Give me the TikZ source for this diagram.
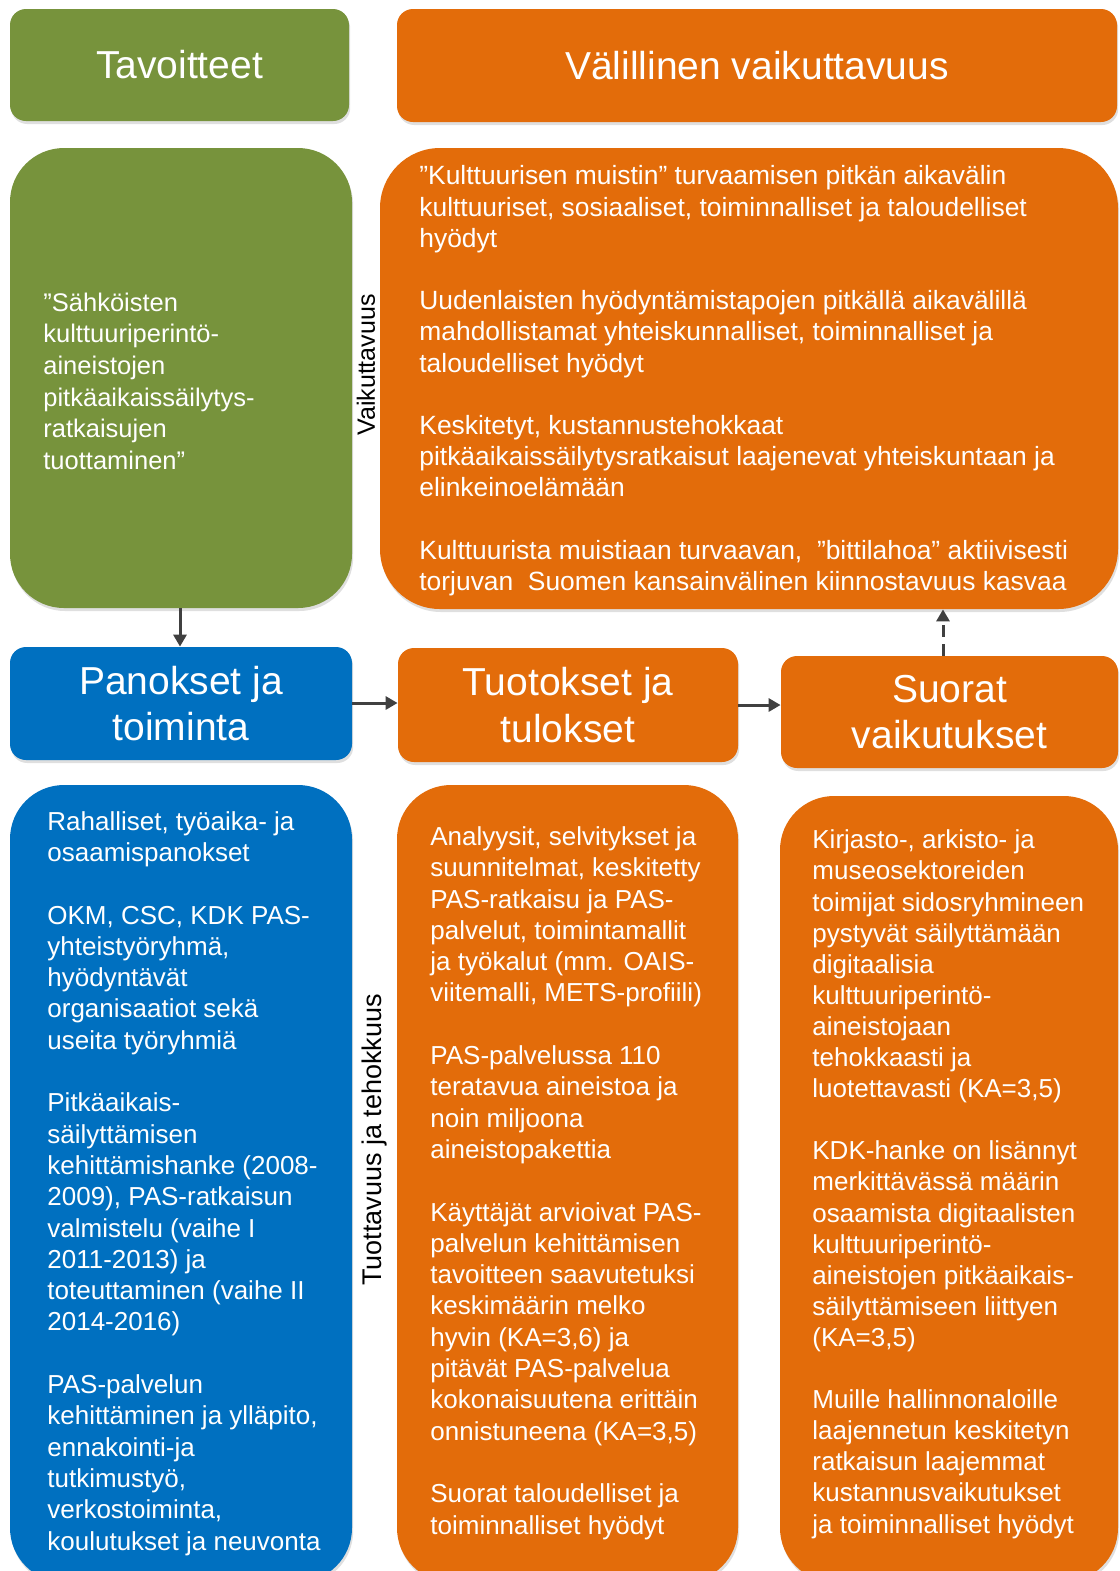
\documentclass[tikz,border=0pt]{standalone}
\usepackage{fontspec}
\setmainfont{Liberation Sans}
\usetikzlibrary{arrows.meta,shadows,calc,fit}
\definecolor{cG}{HTML}{77933C}
\definecolor{cO}{HTML}{E36C0A}
\definecolor{cB}{HTML}{0070C0}
\definecolor{cA}{HTML}{404040}
\tikzset{
  shbox/.style={inner sep=0pt, draw=none, rounded corners=#1,
    drop shadow={opacity=0.25, shadow xshift=0.6pt, shadow yshift=-1.5pt}},
  htext/.style={text=white, align=center, inner sep=0pt,
    font=\fontsize{19.5pt}{23.4pt}\selectfont},
  btext/.style={text=white, align=left, inner sep=0pt, anchor=base west,
    font=\fontsize{13pt}{15.65pt}\selectfont},
  vlabel/.style={text=black, rotate=90, inner sep=0pt},
  arr/.style={draw=cA, line width=1.5pt, -{Triangle[length=6pt,width=6.5pt]}},
}
\begin{document}
\begin{tikzpicture}[x=0.5pt,y=-0.5pt]
\useasboundingbox (0,0) rectangle (1120,1571);
\clip (0,0) rectangle (1120,1571);
\fill[white] (0,0) rectangle (1120,1571);

% header boxes
\node[shbox=8pt, fill=cG, fit={(10,9)(349,121)}] (hdrG) {};
\node[htext] (hdrGt) at (hdrG.center) {Tavoitteet};
\node[shbox=8pt, fill=cO, fit={(397,9)(1117,122)}] (hdrO) {};
\node[htext] (hdrOt) at (hdrO.center) {Välillinen vaikuttavuus};

% big boxes
\node[shbox=27pt, fill=cG, fit={(10,148)(352,608)}] (bigG) {};
\node[shbox=30pt, fill=cO, fit={(380,148)(1118,609)}] (bigO) {};

% middle row
\node[shbox=8pt, fill=cB, fit={(10,647)(352,760)}] (pan) {};
\node[htext] (pant) at (pan.center) {Panokset ja\\toiminta};
\node[shbox=8pt, fill=cO, fit={(398,648)(738,762)}] (tuo) {};
\node[htext] (tuot) at (tuo.center) {Tuotokset ja\\tulokset};
\node[shbox=8pt, fill=cO, fit={(781,656)(1118,768)}] (suo) {};
\node[htext] (suot) at (suo.center) {Suorat\\vaikutukset};

% bottom boxes (their lower edge lies just past the picture's bottom)
\node[shbox=27pt, fill=cB, fit={(10,785)(352,1582)}] (botB) {};
\node[shbox=27pt, fill=cO, fit={(397,785)(738,1582)}] (botO) {};
\node[shbox=27pt, fill=cO, fit={(780,796)(1118,1582)}] (botR) {};

% texts (anchor = baseline of the LAST line)
\node[btext, font=\fontsize{12.75pt}{15.85pt}\selectfont] (gtext) at (43,469.5)
 {”Sähköisten\\kulttuuriperintö-\\aineistojen\\pitkäaikaissäilytys-\\ratkaisujen\\tuottaminen”};

\node[btext, font=\fontsize{13.2pt}{15.6pt}\selectfont] (otext) at (419,590.5)
 {”Kulttuurisen muistin” turvaamisen pitkän aikavälin\\
  kulttuuriset, sosiaaliset, toiminnalliset ja taloudelliset\\
  hyödyt\\[15.6pt]
  Uudenlaisten hyödyntämistapojen pitkällä aikavälillä\\
  mahdollistamat yhteiskunnalliset, toiminnalliset ja\\
  taloudelliset hyödyt\\[15.6pt]
  Keskitetyt, kustannustehokkaat\\
  pitkäaikaissäilytysratkaisut laajenevat yhteiskuntaan ja\\
  elinkeinoelämään\\[15.6pt]
  Kulttuurista muistiaan turvaavan,\ \ ”bittilahoa” aktiivisesti\\
  torjuvan\ \ Suomen kansainvälinen kiinnostavuus kasvaa};

\node[btext] (btext1) at (47,1550)
 {Rahalliset, työaika- ja\\osaamispanokset\\[15.65pt]
  OKM, CSC, KDK PAS-\\yhteistyöryhmä,\\hyödyntävät\\organisaatiot sekä\\useita työryhmiä\\[15.65pt]
  Pitkäaikais-\\säilyttämisen\\kehittämishanke (2008-\\2009), PAS-ratkaisun\\valmistelu (vaihe I\\2011-2013) ja\\toteuttaminen (vaihe II\\2014-2016)\\[15.65pt]
  PAS-palvelun\\kehittäminen ja ylläpito,\\ennakointi-ja\\tutkimustyö,\\verkostoiminta,\\koulutukset ja neuvonta};

\node[btext] (btext2) at (430,1534)
 {Analyysit, selvitykset ja\\suunnitelmat, keskitetty\\PAS-ratkaisu ja PAS-\\palvelut, toimintamallit\\ja työkalut (mm. OAIS-\\viitemalli, METS-profiili)\\[15.65pt]
  PAS-palvelussa 110\\teratavua aineistoa ja\\noin miljoona\\aineistopakettia\\[15.65pt]
  Käyttäjät arvioivat PAS-\\palvelun kehittämisen\\tavoitteen saavutetuksi\\keskimäärin melko\\hyvin (KA=3,6) ja\\pitävät PAS-palvelua\\kokonaisuutena erittäin\\onnistuneena (KA=3,5)\\[15.65pt]
  Suorat taloudelliset ja\\toiminnalliset hyödyt};

\node[btext, font=\fontsize{13pt}{15.55pt}\selectfont] (btext3) at (812,1533)
 {Kirjasto-, arkisto- ja\\museosektoreiden\\toimijat sidosryhmineen\\pystyvät\ säilyttämään\\digitaalisia\\kulttuuriperintö-\\aineistojaan\\tehokkaasti ja\\luotettavasti (KA=3,5)\\[15.55pt]
  KDK-hanke on lisännyt\\merkittävässä määrin\\osaamista digitaalisten\\kulttuuriperintö-\\aineistojen pitkäaikais-\\säilyttämiseen liittyen\\(KA=3,5)\\[15.55pt]
  Muille hallinnonaloille\\laajennetun keskitetyn\\ratkaisun laajemmat\\kustannusvaikutukset\\ja toiminnalliset hyödyt};

% side labels
\node[vlabel, font=\fontsize{12.5pt}{15pt}\selectfont] (lv) at (366,365) {Vaikuttavuus};
\node[vlabel, font=\fontsize{13.5pt}{16pt}\selectfont] (lt) at (375,1140) {Tuottavuus ja tehokkuus};

% connectors
\draw[arr] (bigG.south -| 180,0) -- (pan.north -| 180,0);
\draw[arr] (pan.east |- 0,703) -- (tuo.west |- 0,703);
\draw[arr] (tuo.east |- 0,705) -- (suo.west |- 0,705);
\draw[arr, dash pattern=on 6pt off 3.5pt] (suo.north -| 943,0) -- (bigO.south -| 943,0);
\end{tikzpicture}
\end{document}
